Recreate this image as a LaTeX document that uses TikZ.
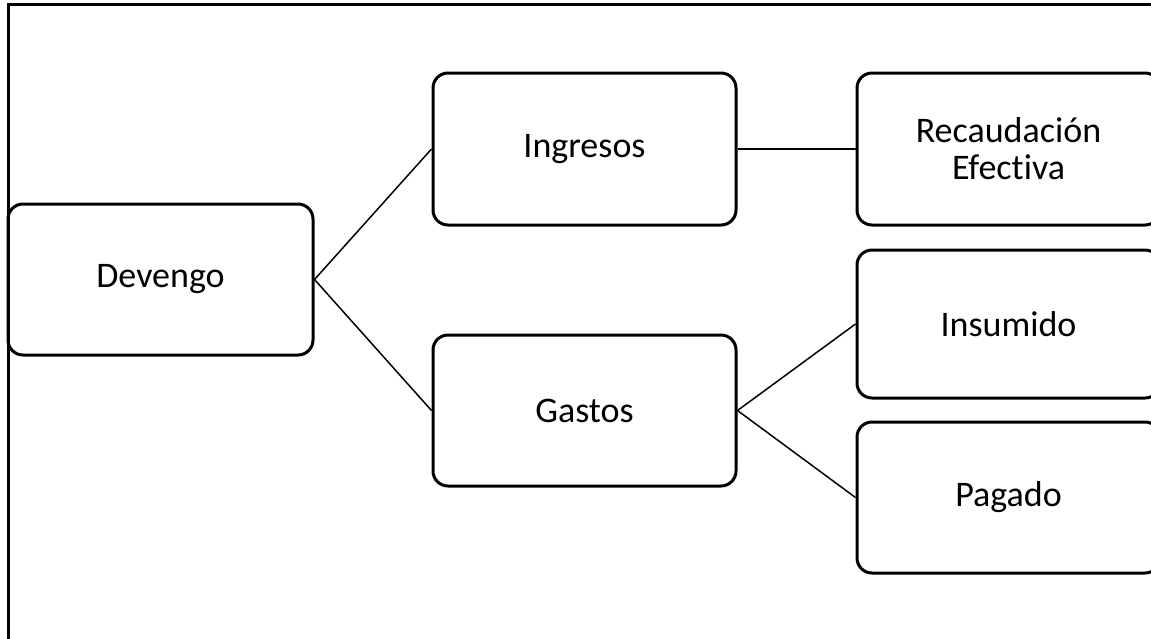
\documentclass[tikz,border=0pt]{standalone}
\usepackage{fontspec}
\setmainfont[Ligatures=NoCommon]{Carlito}
\begin{document}
\begin{tikzpicture}[x=0.5pt, y=-0.5pt,
    caja/.style={draw, line width=1.5pt, rounded corners=7.5pt, inner sep=0pt,
                 align=center, font=\fontsize{18}{18.5}\selectfont},
    enlace/.style={line width=0.75pt}]
    % Frame
    \useasboundingbox (0,0) rectangle (1151,638);
    \clip (0,0) rectangle (1151,638);
    \draw[line width=1.5pt] (8,4) rectangle (1175,660);

    % Boxes
    \node[caja, minimum width=152.5pt, minimum height=75.5pt] (devengo) at (160.5,279.5) {Devengo};
    \node[caja, minimum width=151.5pt, minimum height=76pt] (ingresos) at (584.5,149) {Ingresos};
    \node[caja, minimum width=151.5pt, minimum height=75.5pt] (gastos) at (584.5,410.5) {Gastos};
    \node[caja, minimum width=151.5pt, minimum height=76pt] (recaudacion) at (1008.5,149) {Recaudación\\Efectiva};
    \node[caja, minimum width=151.5pt, minimum height=74pt] (insumido) at (1008.5,324) {Insumido};
    \node[caja, minimum width=151.5pt, minimum height=75.5pt] (pagado) at (1008.5,497.5) {Pagado};

    % Links
    \draw[enlace] (devengo.east) -- (ingresos.west);
    \draw[enlace] (devengo.east) -- (gastos.west);
    \draw[enlace] (ingresos.east) -- (recaudacion.west);
    \draw[enlace] (gastos.east) -- (insumido.west);
    \draw[enlace] (gastos.east) -- (pagado.west);
\end{tikzpicture}
\end{document}
